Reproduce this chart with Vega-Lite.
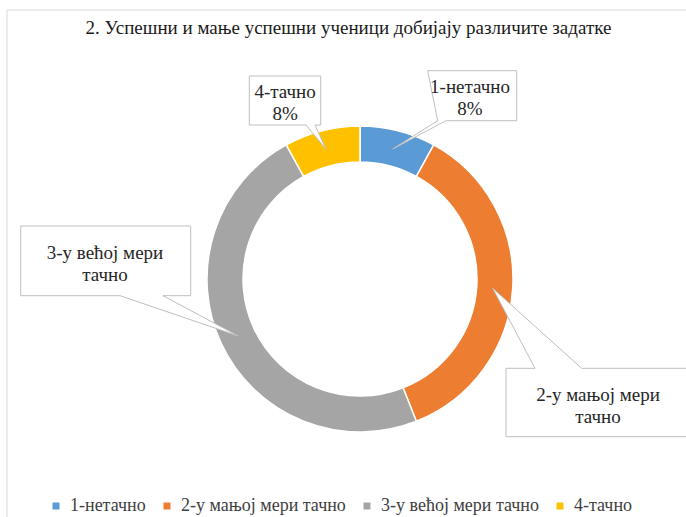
{
  "$schema": "https://vega.github.io/schema/vega-lite/v6.json",
  "width": 652,
  "height": 476,
  "autosize": {"type": "none"},
  "padding": {"left": 34, "top": 41, "right": 0, "bottom": 0},
  "background": "white",
  "title": {
    "text": "2. Успешни и мање успешни ученици добијају различите задатке",
    "font": "Liberation Serif, serif",
    "fontSize": 19,
    "fontWeight": "normal",
    "color": "#1a1a1a",
    "anchor": "middle",
    "frame": "group",
    "dx": -11.5,
    "offset": -45,
    "baseline": "alphabetic"
  },
  "data": {
    "values": [
      {"cat": "1-нетачно", "value": 8, "label": "1-нетачно\n8%"},
      {"cat": "2-у мањој мери тачно", "value": 36, "label": "2-у мањој мери\nтачно"},
      {"cat": "3-у већој мери тачно", "value": 48, "label": "3-у већој мери\nтачно"},
      {"cat": "4-тачно", "value": 8, "label": "4-тачно\n8%"}
    ]
  },
  "layer": [
    {
      "data": {"values": [{"frame": "border"}]},
      "mark": {"type": "point", "shape": "M-353,250 V-269 H340", "size": 4, "filled": false, "stroke": "#d9d9d9", "strokeWidth": 1, "opacity": 1},
      "encoding": {}
    },
    {
      "mark": {"type": "arc", "innerRadius": 117, "outerRadius": 153, "stroke": "#ffffff", "strokeWidth": 1.5},
      "encoding": {
        "theta": {"field": "value", "type": "quantitative", "stack": true},
        "color": {
          "field": "cat",
          "type": "nominal",
          "scale": {"domain": ["1-нетачно", "2-у мањој мери тачно", "3-у већој мери тачно", "4-тачно"], "range": ["#5B9BD5", "#ED7D31", "#A5A5A5", "#FFC000"]},
          "legend": {
            "orient": "none",
            "legendX": 13,
            "legendY": 456,
            "direction": "horizontal",
            "title": null,
            "symbolType": "square",
            "symbolSize": 49,
            "symbolStrokeWidth": 0,
            "labelFont": "Liberation Serif, serif",
            "labelFontSize": 18,
            "labelLimit": 400,
            "labelColor": "#404040",
            "labelOffset": 5,
            "columnPadding": 12
          }
        }
      }
    },
    {
      "mark": {"type": "point", "size": 4, "filled": true, "fill": "#ffffff", "stroke": "#bfbfbf", "strokeWidth": 1, "opacity": 1},
      "encoding": {
        "shape": {
          "field": "label",
          "type": "nominal",
          "scale": {
            "domain": ["1-нетачно\n8%", "2-у мањој мери\nтачно", "3-у већој мери\nтачно", "4-тачно\n8%"],
            "range": [
              "M67.7,-208.3 H156.7 V-158.3 H86 L32.7,-130 L77.7,-158.3 Z",
              "M146,89.3 H175 L132.7,9.3 L221.7,89.3 H335 V157.7 H146 Z",
              "M-339.3,-53 H-169.3 V16.7 H-197 L-121.7,57 L-240,16.7 H-339.3 Z",
              "M-110.7,-203 H-39.3 V-154 H-45 L-34,-129.7 L-54,-154 H-110.7 Z"
            ]
          },
          "legend": null
        }
      }
    },
    {
      "mark": {"type": "text", "radius": 203, "dx": 59.5, "dy": 4.7, "font": "Liberation Serif, serif", "fontSize": 19, "fill": "#262626", "lineBreak": "\n", "lineHeight": 22, "align": "center", "baseline": "middle"},
      "encoding": {
        "theta": {"field": "value", "type": "quantitative", "stack": true},
        "detail": {"field": "cat", "type": "nominal"},
        "text": {"condition": {"test": "datum.cat === '1-нетачно'", "field": "label"}, "value": ""}
      }
    },
    {
      "mark": {"type": "text", "radius": 245, "dx": -6.5, "dy": 100.5, "font": "Liberation Serif, serif", "fontSize": 19, "fill": "#262626", "lineBreak": "\n", "lineHeight": 22, "align": "center", "baseline": "middle"},
      "encoding": {
        "theta": {"field": "value", "type": "quantitative", "stack": true},
        "detail": {"field": "cat", "type": "nominal"},
        "text": {"condition": {"test": "datum.cat === '2-у мањој мери тачно'", "field": "label"}, "value": ""}
      }
    },
    {
      "mark": {"type": "text", "radius": 150, "dx": -119.3, "dy": -89.9, "font": "Liberation Serif, serif", "fontSize": 19, "fill": "#262626", "lineBreak": "\n", "lineHeight": 22, "align": "center", "baseline": "middle"},
      "encoding": {
        "theta": {"field": "value", "type": "quantitative", "stack": true},
        "detail": {"field": "cat", "type": "nominal"},
        "text": {"condition": {"test": "datum.cat === '3-у већој мери тачно'", "field": "label"}, "value": ""}
      }
    },
    {
      "mark": {"type": "text", "radius": 189, "dx": -27.9, "dy": -3.9, "font": "Liberation Serif, serif", "fontSize": 19, "fill": "#262626", "lineBreak": "\n", "lineHeight": 22, "align": "center", "baseline": "middle"},
      "encoding": {
        "theta": {"field": "value", "type": "quantitative", "stack": true},
        "detail": {"field": "cat", "type": "nominal"},
        "text": {"condition": {"test": "datum.cat === '4-тачно'", "field": "label"}, "value": ""}
      }
    }
  ],
  "config": {
    "view": {"stroke": null}
  }
}
